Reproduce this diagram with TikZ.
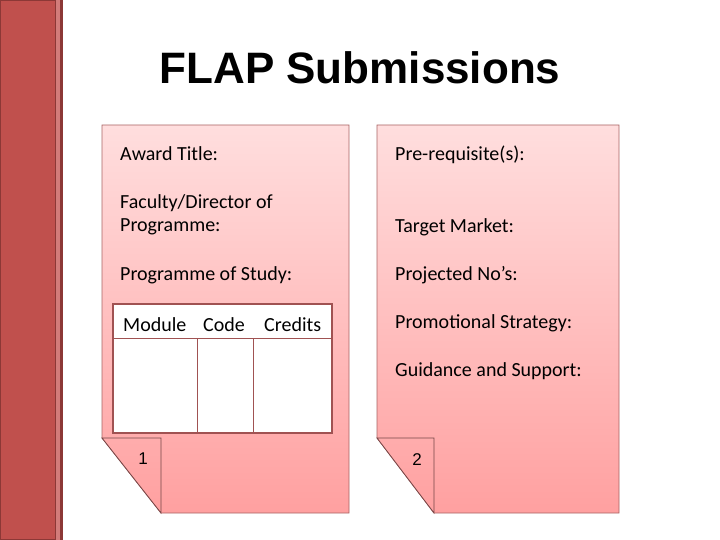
\documentclass[tikz,border=0pt]{standalone}
\usepackage{fontspec}
\setmainfont{Carlito}
\newfontfamily\arialf{Liberation Sans}
\definecolor{barred}{HTML}{C0504D}
\definecolor{bardark}{HTML}{8C3836}
\definecolor{barlight}{HTML}{D27C7A}
\definecolor{pgtop}{HTML}{FFDEDE}
\definecolor{pgbot}{HTML}{FFA0A0}
\definecolor{pgline}{HTML}{A86464}
\definecolor{tabline}{HTML}{A05252}
\tikzset{
  page/.style={top color=pgtop, bottom color=pgbot, draw=pgline, line width=0.8pt},
  flap/.style={top color=pgbot!80!pgtop, bottom color=pgbot, draw=pgline!70!black, line width=0.8pt},
  lbl/.style={anchor=base west, inner sep=0pt, font=\fontsize{20}{24}\selectfont},
  num/.style={anchor=center, inner sep=0pt, font=\arialf\fontsize{17}{20}\selectfont},
  tab/.style={draw=tabline, line width=2pt, fill=white},
  tabin/.style={draw=tabline, line width=0.8pt}
}
\begin{document}
\begin{tikzpicture}[x=1pt,y=-1pt]
\useasboundingbox (0,0) rectangle (720,540);
% left bar
\fill[barred] (0,0) rectangle (56,540);
\draw[bardark, line width=1pt] (0.5,0.5) rectangle (55.5,539.5);
\fill[barlight] (56,0) rectangle (60,540);
\fill[bardark] (60,0) rectangle (63,540);
% title
\node[anchor=base, inner sep=0pt, font=\arialf\bfseries\fontsize{44}{50}\selectfont] (title) at (360,84) {FLAP Submissions};
% left page
\path[page] (102,125) -- (349,125) -- (349,513) -- (161,513) -- (102,438) -- cycle;
\path[flap] (102,438) -- (161,438) -- (161,513) -- cycle;
% right page
\path[page] (377,125) -- (619,125) -- (619,513) -- (434,513) -- (377,438) -- cycle;
\path[flap] (377,438) -- (434,438) -- (434,513) -- cycle;
% table
\draw[tab] (113,304) rectangle (332,433);
\draw[tabin] (113,338) -- (332,338);
\draw[tabin] (197,338) -- (197,433);
\draw[tabin] (253,338) -- (253,433);
% left texts
\node[lbl] (award) at (120,161) {Award Title:};
\node[lbl] (fac1) at (120,208) {Faculty/Director of};
\node[lbl] (fac2) at (120,232) {Programme:};
\node[lbl] (pos) at (120,280) {Programme of Study:};
\node[lbl] (mod) at (123,331) {Module};
\node[lbl] (code) at (203,331) {Code};
\node[lbl] (cred) at (264,331) {Credits};
% right texts
\node[lbl] (pre) at (395,161) {Pre-requisite(s):};
\node[lbl] (tm) at (395,233) {Target Market:};
\node[lbl] (pn) at (395,280) {Projected No’s:};
\node[lbl] (ps) at (395,328) {Promotional Strategy:};
\node[lbl] (gs) at (395,376) {Guidance and Support:};
% numbers
\node[num] (n1) at (143,459) {1};
\node[num] (n2) at (417,460) {2};
\end{tikzpicture}
\end{document}
